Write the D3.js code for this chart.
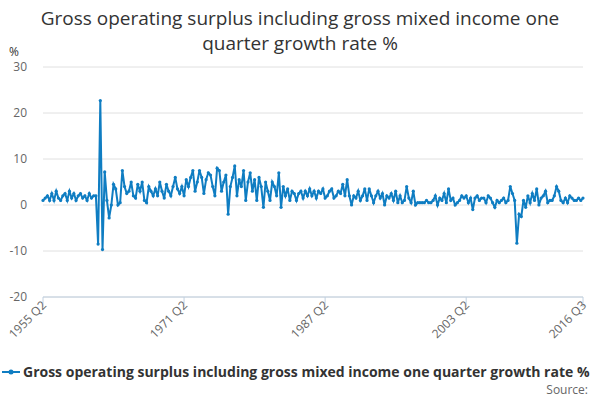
<!DOCTYPE html>
<html><head><meta charset="utf-8">
<script src="https://cdn.jsdelivr.net/npm/d3@7"></script>
<style>body{margin:0;background:#fff;font-family:"Open Sans",sans-serif}</style>
</head><body><svg id="chart" width="600" height="400"></svg>
<script>
// quarterly growth rate, 1955 Q2 .. 2016 Q3
var values = [
  1,1.5,2,1,2.5,1,3,1.5,1,2,2.5,1,3,1.5,2.5,1,2,2.5,1.5,2,1,2.5,1.5,2,2,
  -8.5,22.7,-9.7,7.2,
  1,-2.8,0,4.5,3.5,0,0.5,7.5,4,2.5,3,5,2,
  1.5,4.5,3,5,1,0.5,4,3,2,3.5,2,5,3,1.5,4.5,3,2,4,6,3.5,
  2.5,4,2,5.5,4,6,7.5,3,5,7.5,6,2.5,5.5,7,6.5,4,2,8,7.5,3,
  5,6.5,-2,4,6,8.5,2,5.5,4,7.5,1,5,7,3,5.5,1,6,4,-0.5,5,
  3,1,5,4,2,7,-0.5,4,2,3.5,1,3,2.5,1,2.5,3,1.5,3,2,3.5,
  2,3,1.5,3,2.5,3.5,1.5,2,3,3.5,1.5,2,3,2.5,4.5,2,5.5,2,0,2,
  1.5,3,1,2,3.5,1,3.5,2,0.5,2,3,1.5,2.5,0,2,1.5,2.5,1,3,0.5,
  2,0.5,1,4,1.5,0.5,3,0,0.5,0.5,0.5,0.5,1,0.5,0.5,1,2,0,1.5,1,
  2.5,0.5,3.5,1,1.5,0,0.5,1,2,1.5,2,0.5,1.5,-1,1.5,2,1,1.5,1.5,0.5,
  2,1.5,0.5,-0.5,1,0.5,1,1.5,0.5,1,4,2.5,1,-8.3,-2,-2.5,1,-0.5,2,0.5,
  2.5,1,3.5,0,1.5,2,3,0.5,1,1,2,4,3,1,0.5,1.5,0.5,2,1.5,1,1,1.5,1,1.5
];
var tickIdx = [0, 64, 128, 192, 245];
var tickLabels = ["1955 Q2", "1971 Q2", "1987 Q2", "2003 Q2", "2016 Q3"];
var yTicks = [-20, -10, 0, 10, 20, 30];

var svg = d3.select("#chart");
var x = d3.scaleLinear().domain([0, values.length - 1]).range([43, 583]);
var y = d3.scaleLinear().domain([-20, 30]).range([297, 67]);

// title
svg.append("text").attr("x", 300).attr("y", 25).attr("text-anchor", "middle")
  .attr("font-size", 19).attr("fill", "#333").text("Gross operating surplus including gross mixed income one");
svg.append("text").attr("x", 300).attr("y", 50).attr("text-anchor", "middle")
  .attr("font-size", 19).attr("fill", "#333").text("quarter growth rate %");
svg.append("text").attr("x", 9).attr("y", 56).attr("font-size", 12).attr("fill", "#333").text("%");

// gridlines + y labels
yTicks.forEach(function(t) {
  svg.append("line").attr("x1", 43).attr("x2", 583).attr("y1", y(t)).attr("y2", y(t))
    .attr("stroke", "#e0e0e0");
  svg.append("text").attr("x", 27).attr("y", y(t) + 4).attr("text-anchor", "end")
    .attr("font-size", 12).attr("fill", "#666").text(t);
});

// x axis
svg.append("line").attr("x1", 43).attr("x2", 583).attr("y1", 297).attr("y2", 297).attr("stroke", "#c0d0e0");
tickIdx.forEach(function(t, i) {
  svg.append("line").attr("x1", x(t)).attr("x2", x(t)).attr("y1", 297).attr("y2", 307).attr("stroke", "#c0d0e0");
  svg.append("text").attr("transform", "translate(" + (x(t) + 4) + ",306) rotate(-45)")
    .attr("text-anchor", "end").attr("font-size", 12).attr("fill", "#666").text(tickLabels[i]);
});

// series
var line = d3.line().x(function(d, i) { return x(i); }).y(function(d) { return y(d); });
svg.append("path").datum(values).attr("d", line).attr("fill", "none")
  .attr("stroke", "#0f7dc2").attr("stroke-width", 2);
svg.selectAll("circle.pt").data(values).enter().append("circle")
  .attr("cx", function(d, i) { return x(i); }).attr("cy", function(d) { return y(d); })
  .attr("r", 1.6).attr("fill", "#0f7dc2");

// legend
svg.append("line").attr("x1", 2).attr("x2", 20).attr("y1", 372).attr("y2", 372)
  .attr("stroke", "#0f7dc2").attr("stroke-width", 2);
svg.append("circle").attr("cx", 11).attr("cy", 372).attr("r", 2.5).attr("fill", "#0f7dc2");
svg.append("text").attr("x", 23).attr("y", 377).attr("font-size", 14).attr("font-weight", "bold")
  .attr("fill", "#333").text("Gross operating surplus including gross mixed income one quarter growth rate %");
svg.append("text").attr("x", 588).attr("y", 394).attr("text-anchor", "end")
  .attr("font-size", 12).attr("fill", "#666").text("Source:");
</script></body></html>
